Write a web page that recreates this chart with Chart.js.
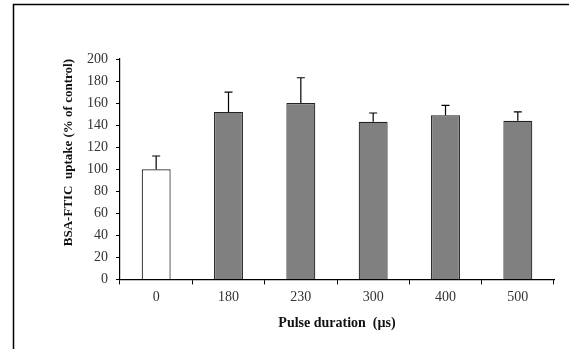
<!DOCTYPE html>
<html>
<head>
<meta charset="utf-8">
<script src="https://cdn.jsdelivr.net/npm/chart.js@4"></script>
<style>
  html, body { margin: 0; padding: 0; background: #fff; }
  #wrap { width: 569px; height: 349px; position: relative; }
</style>
</head>
<body>
<div id="wrap"><canvas id="chart" width="569" height="349"></canvas></div>
<script>
const categories = ['0', '180', '230', '300', '400', '500'];
const uptake = [100, 152, 160, 143, 149, 144];
const errorPlus = [12, 18, 23, 8, 9, 8];
const barColors = ['#ffffff', '#808080', '#808080', '#808080', '#808080', '#808080'];

// upward-only error bars
const errorBars = {
  id: 'errorBars',
  afterDatasetsDraw(chart) {
    const ctx = chart.ctx;
    const meta = chart.getDatasetMeta(0);
    const y = chart.scales.y;
    ctx.save();
    ctx.strokeStyle = '#000';
    ctx.lineWidth = 1.2;
    meta.data.forEach((bar, i) => {
      const top = y.getPixelForValue(uptake[i] + errorPlus[i]);
      const base = y.getPixelForValue(uptake[i]);
      ctx.beginPath();
      ctx.moveTo(bar.x, base);
      ctx.lineTo(bar.x, top);
      ctx.moveTo(bar.x - 4, top);
      ctx.lineTo(bar.x + 4, top);
      ctx.stroke();
    });
    ctx.restore();
  }
};

// frame lines along top and left of the picture
const frame = {
  id: 'frame',
  beforeDraw(chart) {
    const ctx = chart.ctx;
    ctx.save();
    ctx.strokeStyle = '#000';
    ctx.lineWidth = 1.5;
    ctx.beginPath();
    ctx.moveTo(13.5, chart.height);
    ctx.lineTo(13.5, 4.5);
    ctx.lineTo(chart.width, 4.5);
    ctx.stroke();
    ctx.restore();
  }
};

new Chart(document.getElementById('chart'), {
  type: 'bar',
  data: {
    labels: categories,
    datasets: [{
      data: uptake,
      backgroundColor: barColors,
      borderColor: '#222',
      borderWidth: 1.2,
      categoryPercentage: 0.8,
      barPercentage: 0.5
    }]
  },
  options: {
    responsive: false,
    animation: false,
    layout: { padding: { top: 59, right: 15, left: 57, bottom: 13 } },
    plugins: { legend: { display: false }, tooltip: { enabled: false } },
    scales: {
      x: {
        grid: { display: true, drawOnChartArea: false, drawTicks: true, tickLength: 5, offset: true, color: '#000' },
        border: { color: '#000', width: 1.2 },
        ticks: { color: '#333', font: { family: 'Liberation Serif', size: 14 }, padding: 5 },
        title: { display: true, text: 'Pulse duration  (µs)', color: '#111',
                 font: { family: 'Liberation Serif', size: 14, weight: 'bold' }, padding: { top: 4 } }
      },
      y: {
        min: 0, max: 200,
        grid: { display: true, drawOnChartArea: false, drawTicks: true, tickLength: 4, color: '#000' },
        border: { color: '#000', width: 1.2 },
        ticks: { stepSize: 20, color: '#333', font: { family: 'Liberation Serif', size: 14 }, padding: 8 },
        title: { display: true, text: 'BSA-FTIC  uptake (% of control)', align: 'end', color: '#111',
                 font: { family: 'Liberation Serif', size: 13, weight: 'bold' }, padding: { bottom: 6 } },
        afterFit(scale) { scale.width = 63; }
      }
    }
  },
  plugins: [errorBars, frame]
});
</script>
</body>
</html>
